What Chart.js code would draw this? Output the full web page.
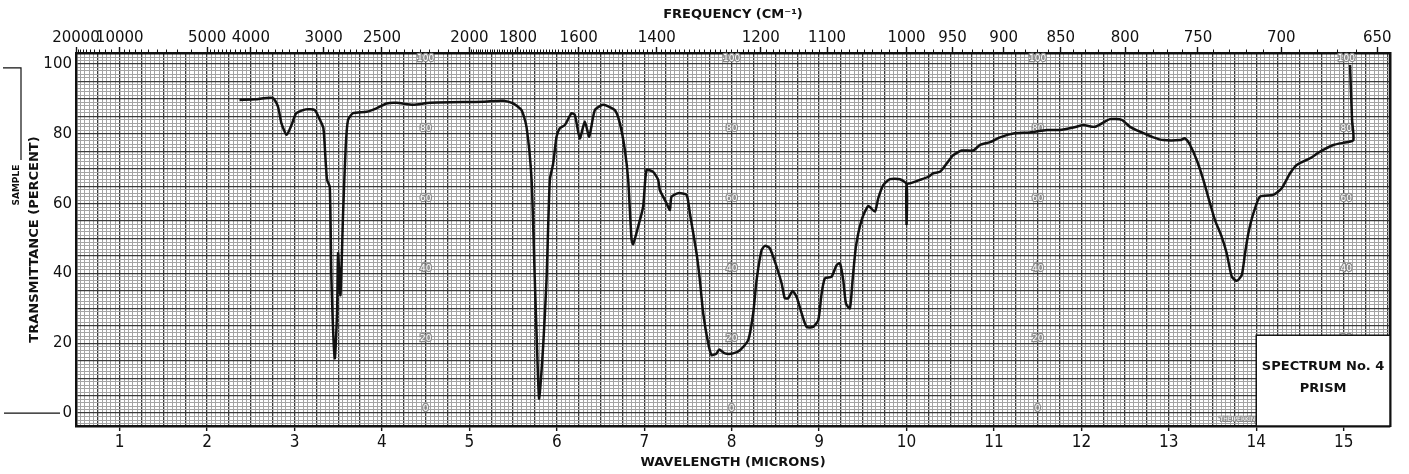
<!DOCTYPE html>
<html lang="en">
<head>
<meta charset="UTF-8">
<title>Spectrum No. 4</title>
<script src="https://cdn.jsdelivr.net/npm/chart.js"></script>
<style>
  html, body { margin: 0; padding: 0; background: #fff; }
  #wrap { width: 1409px; height: 474px; position: relative; }
</style>
</head>
<body>
<div id="wrap"><canvas id="irChart"></canvas></div>
<script>
// trace: wavelength in microns, transmittance in percent
const wavelength = [
  2.37, 2.55, 2.75, 2.81, 2.85, 2.91, 2.965, 3.02, 3.13, 3.23, 3.29, 3.33, 3.357, 3.372, 3.403,
  3.422, 3.46, 3.486, 3.498, 3.525, 3.555, 3.585, 3.612, 3.669, 3.823, 3.937, 4.052, 4.166, 4.356,
  4.547, 5.157, 5.386, 5.5, 5.596, 5.653, 5.711, 5.748, 5.786, 5.798, 5.843, 5.882, 5.92, 5.958,
  5.997, 6.034, 6.092, 6.168, 6.206, 6.263, 6.32, 6.37, 6.435, 6.53, 6.664, 6.721, 6.778, 6.816,
  6.855, 6.873, 6.93, 6.987, 7.026, 7.102, 7.159, 7.178, 7.255, 7.293, 7.312, 7.388, 7.484, 7.522,
  7.598, 7.636, 7.674, 7.731, 7.77, 7.827, 7.857, 7.922, 8.017, 8.094, 8.189, 8.246, 8.285, 8.342,
  8.38, 8.437, 8.514, 8.571, 8.608, 8.646, 8.697, 8.742, 8.8, 8.857, 8.932, 8.99, 9.029, 9.066,
  9.143, 9.2, 9.238, 9.276, 9.307, 9.352, 9.383, 9.421, 9.486, 9.562, 9.638, 9.676, 9.733, 9.81,
  9.924, 10.0, 10.0, 10.0, 10.039, 10.153, 10.248, 10.306, 10.382, 10.459, 10.534, 10.63, 10.763,
  10.84, 10.954, 11.069, 11.221, 11.412, 11.603, 11.755, 11.907, 12.022, 12.156, 12.327, 12.461,
  12.556, 12.67, 12.823, 12.937, 13.128, 13.185, 13.243, 13.319, 13.395, 13.471, 13.528, 13.605,
  13.662, 13.72, 13.777, 13.834, 13.872, 13.91, 13.967, 14.043, 14.195, 14.291, 14.387, 14.463,
  14.616, 14.73, 14.882, 15.035, 15.111, 15.096, 15.073
];
const transmittance = [
  89.7, 89.9, 90.3, 87.8, 83.0, 79.7, 82.5, 85.9, 87.0, 86.8, 84.0, 81.6, 71.5, 66.8, 64.8,
  38.0, 15.7, 28.6, 45.8, 33.8, 57.2, 76.3, 84.0, 85.9, 86.3, 87.3, 88.7, 88.9, 88.3,
  88.9, 89.2, 89.5, 88.7, 86.8, 82.0, 66.8, 38.1, 9.5, 4.2, 19.0, 38.1, 66.8, 71.5,
  79.2, 81.6, 82.5, 85.9, 85.4, 78.7, 83.5, 79.2, 86.8, 88.3, 86.8, 83.0, 75.4, 66.8,
  49.6, 48.4, 53.4, 59.1, 69.6, 69.1, 66.8, 63.9, 60.1, 58.2, 62.0, 63.0, 62.5, 57.2,
  45.8, 38.1, 28.6, 20.0, 16.6, 17.1, 18.2, 17.1, 17.1, 18.0, 20.9, 28.6, 38.1, 46.7,
  47.9, 47.2, 41.9, 37.2, 32.9, 32.9, 35.0, 33.3, 28.6, 24.7, 24.7, 26.6, 34.3, 38.6,
  39.1, 42.4, 42.9, 38.1, 31.4, 30.0, 38.1, 47.7, 55.3, 59.3, 57.7, 61.5, 65.3, 67.0,
  67.0, 65.6, 53.9, 65.6, 65.8, 66.8, 67.7, 68.7, 69.1, 71.5, 73.9, 75.2, 75.2,
  76.8, 77.6, 79.0, 80.1, 80.4, 81.1, 81.1, 81.8, 82.5, 82.0, 84.2, 84.0,
  82.0, 80.6, 79.0, 78.2, 78.2, 78.7, 76.8, 72.5, 66.8, 60.1, 55.3, 50.5,
  45.8, 39.1, 37.9, 39.5, 45.8, 51.5, 57.2, 62.0, 62.5, 64.4, 68.7, 71.1,
  73.0, 74.9, 76.8, 77.6, 78.2, 84.0, 99.7
];

// axis labels
const micronLabels = [1, 2, 3, 4, 5, 6, 7, 8, 9, 10, 11, 12, 13, 14, 15];
const percentLabels = [0, 20, 40, 60, 80, 100];
const freqLabels = [20000, 10000, 5000, 4000, 3000, 2500, 2000, 1800, 1600, 1400, 1200, 1100,
  1000, 950, 900, 850, 800, 750, 700, 650];
// small frequency ticks: [from, to, step] in cm-1
const freqMinorRanges = [[20000, 10000, 1000], [10000, 5000, 500], [5000, 4000, 100],
  [4000, 3000, 100], [3000, 2000, 50], [2000, 1000, 10], [1000, 650, 10]];
// numbers printed on the chart paper itself
const paperValues = [100, 80, 60, 40, 20, 0];
const paperColumns = [4.5, 8, 11.5, 15.03];

const near = (v, step) => Math.abs(v / step - Math.round(v / step)) < 1e-6;

const minorFreqTicks = [];
freqMinorRanges.forEach(([from, to, step]) => {
  for (let f = from; f >= to; f -= step) minorFreqTicks.push(10000 / f);
});
minorFreqTicks.sort((a, b) => a - b);

const dark = '#3a3a3a';
const fine = '#a4a4a4';
const ink = '#111';

const paperPlugin = {
  id: 'paper',
  beforeDatasetsDraw(chart) {
    const { ctx, scales: { x, y } } = chart;
    ctx.save();
    ctx.font = '9px "DejaVu Sans"';
    ctx.textAlign = 'center';
    ctx.textBaseline = 'middle';
    ctx.lineWidth = 2.5;
    ctx.strokeStyle = '#8c8c8c';
    ctx.fillStyle = '#fff';
    paperColumns.forEach(c => {
      paperValues.forEach(v => {
        const px = x.getPixelForValue(c);
        const py = y.getPixelForValue(v + 1.4);
        ctx.strokeText(String(v), px, py);
        ctx.fillText(String(v), px, py);
      });
    });
    // maker's imprint in the corner
    ctx.font = '6px "DejaVu Sans"';
    ctx.textAlign = 'right';
    ctx.lineWidth = 2;
    const ix = x.getPixelForValue(14) - 1;
    const iy = y.getPixelForValue(-1.8);
    ctx.strokeText('THE PERKIN', ix, iy);
    ctx.fillText('THE PERKIN', ix, iy);
    ctx.restore();
  },
  afterDatasetsDraw(chart) {
    const { ctx, chartArea, scales: { x, y } } = chart;
    const bx = x.getPixelForValue(14);
    const by = y.getPixelForValue(22.3);
    ctx.save();
    ctx.fillStyle = '#fff';
    ctx.fillRect(bx, by, chartArea.right - bx, chartArea.bottom - by);
    ctx.strokeStyle = ink;
    ctx.lineWidth = 1.5;
    ctx.strokeRect(bx, by, chartArea.right - bx, chartArea.bottom - by);
    ctx.fillStyle = ink;
    ctx.font = 'bold 13px "DejaVu Sans"';
    ctx.textAlign = 'center';
    ctx.textBaseline = 'middle';
    const cx = (bx + chartArea.right) / 2;
    ctx.fillText('SPECTRUM No. 4', cx, y.getPixelForValue(13.2));
    ctx.fillText('PRISM', cx, y.getPixelForValue(6.9));
    ctx.restore();
  },
  afterDraw(chart) {
    const { ctx, chartArea, scales: { y } } = chart;
    ctx.save();
    ctx.strokeStyle = ink;
    ctx.lineWidth = 1.2;
    // zero marker line on the left margin
    const y0 = y.getPixelForValue(0);
    ctx.beginPath();
    ctx.moveTo(4, y0);
    ctx.lineTo(chartArea.left - 16, y0);
    ctx.stroke();
    // sample bracket
    const yTop = y.getPixelForValue(98.9);
    const yBot = y.getPixelForValue(72.5);
    ctx.beginPath();
    ctx.moveTo(3, yTop);
    ctx.lineTo(21, yTop);
    ctx.lineTo(21, yBot);
    ctx.stroke();
    ctx.translate(17, y.getPixelForValue(65.3));
    ctx.rotate(-Math.PI / 2);
    ctx.fillStyle = ink;
    ctx.font = 'bold 9px "DejaVu Sans"';
    ctx.textAlign = 'center';
    ctx.textBaseline = 'middle';
    ctx.fillText('SAMPLE', 0, 0);
    ctx.restore();
  }
};

new Chart(document.getElementById('irChart'), {
  type: 'scatter',
  data: {
    datasets: [{
      data: wavelength.map((w, i) => ({ x: w, y: transmittance[i] })),
      showLine: true,
      borderColor: ink,
      borderWidth: 2.5,
      pointRadius: 0,
      tension: 0.2
    }]
  },
  options: {
    responsive: true,
    maintainAspectRatio: false,
    animation: false,
    layout: { padding: { right: 19 } },
    plugins: { legend: { display: false }, tooltip: { enabled: false } },
    scales: {
      x: {
        type: 'linear',
        position: 'bottom',
        min: 0.5,
        max: 15.53,
        afterBuildTicks: scale => {
          const t = [];
          for (let k = 10; k <= 310; k++) t.push({ value: k / 20 });
          scale.ticks = t;
        },
        afterFit: scale => { scale.height = 48; },
        ticks: {
          autoSkip: false,
          maxRotation: 0,
          padding: 1,
          color: ink,
          font: { family: "'Liberation Sans Narrow', 'DejaVu Sans Condensed', 'DejaVu Sans'", size: 17 },
          callback: v => (near(v, 1) && micronLabels.includes(Math.round(v))) ? String(Math.round(v)) : ''
        },
        grid: {
          color: ctx => near(ctx.tick.value, 0.25) ? dark : fine,
          lineWidth: ctx => near(ctx.tick.value, 0.25) ? 1.3 : 1,
          tickColor: ctx => near(ctx.tick.value, 1) ? ink : 'rgba(0,0,0,0)',
          tickLength: 5,
          tickWidth: 1.4
        },
        border: { display: true, color: ink, width: 2.5 },
        title: {
          display: true,
          text: 'WAVELENGTH (MICRONS)',
          color: ink,
          font: { family: '"DejaVu Sans"', size: 13, weight: 'bold' },
          padding: { top: 0, bottom: 4 }
        }
      },
      xMinor: {
        type: 'linear',
        position: 'top',
        weight: 0,
        min: 0.5,
        max: 15.53,
        afterBuildTicks: scale => { scale.ticks = minorFreqTicks.map(v => ({ value: v })); },
        afterFit: scale => { scale.height = 0; },
        ticks: { autoSkip: false, display: false },
        grid: { drawOnChartArea: false, tickLength: 3.5, tickColor: ink, tickWidth: 1 },
        border: { display: false }
      },
      xFreq: {
        type: 'linear',
        position: 'top',
        weight: 1,
        min: 0.5,
        max: 15.53,
        afterBuildTicks: scale => { scale.ticks = freqLabels.map(f => ({ value: 10000 / f })); },
        afterFit: scale => { scale.height = 53; },
        ticks: {
          autoSkip: false,
          maxRotation: 0,
          padding: 0,
          color: ink,
          font: { family: '"DejaVu Sans"', size: 15 },
          callback: (v, i) => String(freqLabels[i])
        },
        grid: { drawOnChartArea: false, tickLength: 6, tickColor: ink, tickWidth: 1.4 },
        border: { display: true, color: ink, width: 2.5 },
        title: {
          display: true,
          text: 'FREQUENCY (CM\u207B\u00B9)',
          color: ink,
          font: { family: '"DejaVu Sans"', size: 13, weight: 'bold' },
          padding: { top: 7, bottom: 0 }
        }
      },
      y: {
        type: 'linear',
        position: 'left',
        min: -3.7,
        max: 103.15,
        afterBuildTicks: scale => {
          const t = [];
          for (let k = -3; k <= 103; k++) t.push({ value: k });
          scale.ticks = t;
        },
        afterFit: scale => { scale.width = 76; },
        ticks: {
          autoSkip: false,
          padding: 4,
          color: ink,
          font: { family: '"DejaVu Sans"', size: 15 },
          callback: v => percentLabels.includes(v) ? String(v) : ''
        },
        grid: {
          color: ctx => near(ctx.tick.value, 5) ? dark : fine,
          lineWidth: ctx => near(ctx.tick.value, 5) ? 1.3 : 1,
          drawTicks: false
        },
        border: { display: true, color: ink, width: 2.5 },
        title: {
          display: true,
          text: 'TRANSMITTANCE (PERCENT)',
          color: ink,
          font: { family: '"DejaVu Sans"', size: 13, weight: 'bold' },
          padding: { top: 27, bottom: 0 }
        }
      },
      yRight: {
        type: 'linear',
        position: 'right',
        min: -3.7,
        max: 103.15,
        afterFit: scale => { scale.width = 0; },
        ticks: { display: false },
        grid: { drawOnChartArea: false, drawTicks: false },
        border: { display: true, color: ink, width: 2.5 }
      }
    }
  },
  plugins: [paperPlugin]
});
</script>
</body>
</html>
